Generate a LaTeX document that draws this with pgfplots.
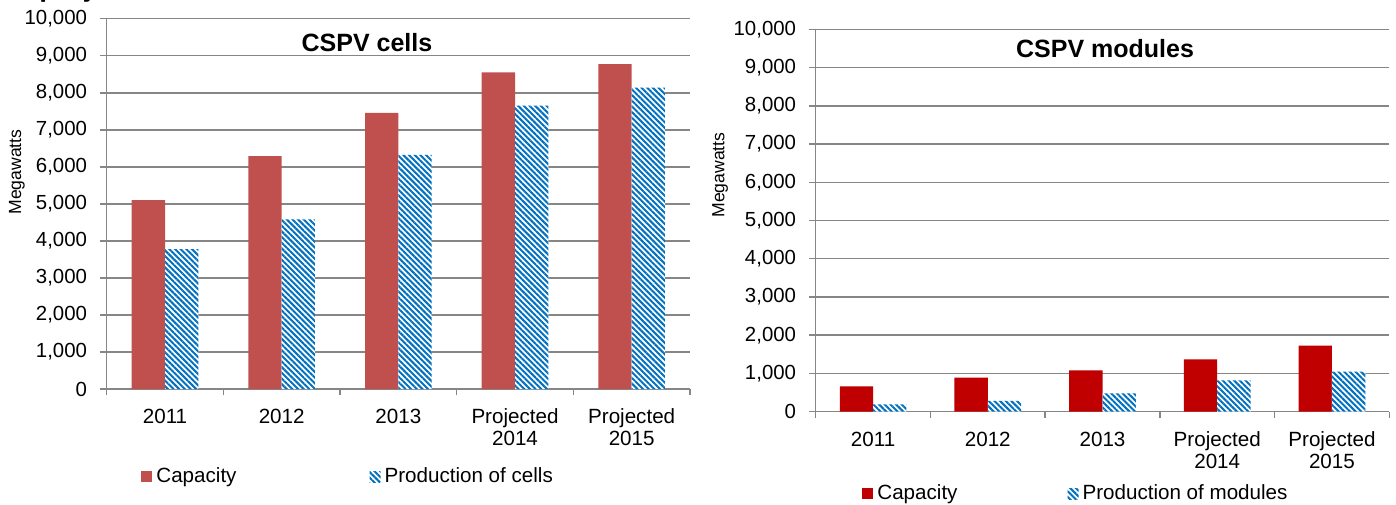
\documentclass[border=0pt]{standalone}
\usepackage{fontspec}
\setmainfont{Liberation Sans}
\usepackage{pgfplots}
\pgfplotsset{compat=1.18}
\usetikzlibrary{patterns.meta}

\definecolor{capA}{RGB}{192,80,77}
\definecolor{capB}{RGB}{192,0,0}
\definecolor{hatch}{RGB}{0,112,192}
\definecolor{gridgray}{RGB}{134,134,134}

% Capacity and production, megawatts
\pgfplotstableread{
x cap prod
0 5100 3780
1 6290 4580
2 7460 6320
3 8550 7650
4 8770 8140
}\cells
\pgfplotstableread{
x cap prod
0 660 190
1 890 280
2 1080 480
3 1370 820
4 1730 1050
}\modules

\pgfplotsset{
  cspv/.style={
    scale only axis,
    ybar=0pt, bar width=16.65pt,
    xmin=-0.5, xmax=4.5, ymin=0, ymax=10000,
    xtick={0,...,4},
    xticklabels={2011,2012,2013,{Projected\\2014},{Projected\\2015}},
    minor xtick={-0.5,0.5,...,4.5},
    ytick={0,1000,...,10000},
    axis x line*=bottom, axis y line*=left,
    axis line style={draw=gridgray, line width=0.75pt, -},
    tick align=outside,
    major tick length=3.5pt, minor tick length=3.2pt,
    tick style={draw=gridgray, line width=0.75pt},
    major x tick style={draw=none},
    ymajorgrids, grid style={draw=gridgray, line width=0.75pt},
    scaled y ticks=false,
    /pgf/number format/assume math mode=true,
    yticklabel style={/pgf/number format/fixed, /pgf/number format/1000 sep={,},
      font=\fontsize{10.2}{12}\selectfont, xshift=-2.8pt},
    xticklabel style={align=center, font=\fontsize{10.3}{11}\selectfont, yshift=-3pt},
    ylabel={Megawatts},
    ylabel style={rotate=0, anchor=center, font=\fontsize{8.8}{10}\selectfont},
    legend columns=2,
    legend style={draw=none, fill=none, font=\fontsize{10.3}{12}\selectfont,
      inner sep=0pt, anchor=west},
    legend cell align=left,
    legend image code/.code={\fill[##1, draw=none] (0pt,-2.75pt) rectangle (5.5pt,2.75pt);},
  },
  hatched/.style={fill=white, draw=none,
    postaction={pattern={Lines[angle=-45, distance=2pt, line width=1pt]}, pattern color=hatch}},
}

\begin{document}
\begin{tikzpicture}
\useasboundingbox (0,0) rectangle (698pt,252pt);

% caption line above, cut off by the page edge
\node[anchor=base west, inner sep=0pt, font=\bfseries\fontsize{14}{16}\selectfont]
  at (19.5pt,253.6pt) {projected 2014--15};

% CSPV cells
\begin{axis}[cspv,
  at={(53.35pt,57.5pt)}, anchor=south west,
  width=291.65pt, height=185.15pt,
  ylabel style={at={(axis description cs:-0.1538,0.586)}},
  legend style={at={(axis description cs:0.0588,-0.2376)}, 
    /tikz/every even column/.append style={column sep=64.5pt}},
]
\addplot[fill=capA, draw=none] table[x=x, y=cap] {\cells};
\addplot[hatched] table[x=x, y=prod] {\cells};
\legend{Capacity, Production of cells}
\end{axis}
\node[anchor=base, font=\bfseries\fontsize{12.5}{14}\selectfont] at (183.5pt,226.15pt) {CSPV cells};

% CSPV modules
\begin{axis}[cspv,
  at={(407.85pt,46.15pt)}, anchor=south west,
  width=286.8pt, height=191.2pt,
  ylabel style={at={(axis description cs:-0.1668,0.619)}},
  legend style={at={(axis description cs:0.0807,-0.215)},
    /tikz/every even column/.append style={column sep=53pt}},
]
\addplot[fill=capB, draw=none] table[x=x, y=cap] {\modules};
\addplot[hatched] table[x=x, y=prod] {\modules};
\legend{Capacity, Production of modules}
\end{axis}
\node[anchor=base, font=\bfseries\fontsize{12.5}{14}\selectfont] at (552.5pt,223.35pt) {CSPV modules};
\end{tikzpicture}
\end{document}
